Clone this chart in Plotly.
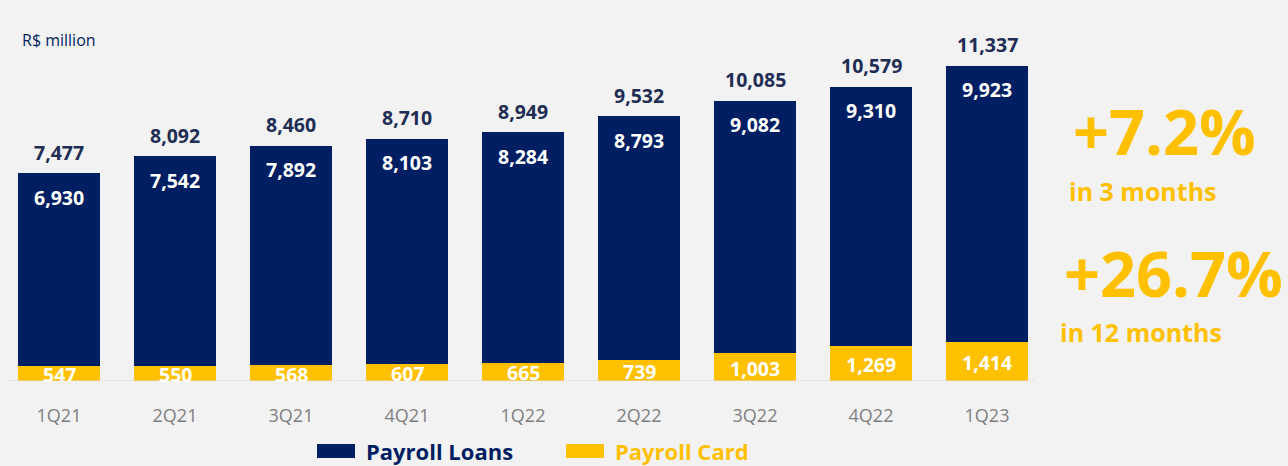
import plotly.graph_objects as go

quarters = ["1Q21", "2Q21", "3Q21", "4Q21", "1Q22", "2Q22", "3Q22", "4Q22", "1Q23"]
payroll_loans = [6930, 7542, 7892, 8103, 8284, 8793, 9082, 9310, 9923]
payroll_card = [547, 550, 568, 607, 665, 739, 1003, 1269, 1414]
totals = [7477, 8092, 8460, 8710, 8949, 9532, 10085, 10579, 11337]

NAVY = "#001E62"
YELLOW = "#FFC000"
BG = "#F2F2F2"
FONT = "Open Sans"

fig = go.Figure()
fig.add_trace(go.Bar(x=quarters, y=payroll_card, name="Payroll Card",
                     marker=dict(color=YELLOW, line=dict(width=0))))
fig.add_trace(go.Bar(x=quarters, y=payroll_loans, name="Payroll Loans",
                     marker=dict(color=NAVY, line=dict(width=0))))

ann = []
for q, c, l, t in zip(quarters, payroll_card, payroll_loans, totals):
    # total above the stack
    ann.append(dict(x=q, y=t, text=f"{t:,}", showarrow=False, yshift=21,
                    font=dict(family=FONT, size=19.5, color="#1F2D55", weight="bold")))
    # loans value near the top of the navy segment
    ann.append(dict(x=q, y=t, text=f"{l:,}", showarrow=False, yshift=-24,
                    font=dict(family=FONT, size=19.5, color="white", weight="bold")))
    # card value centred in the yellow segment
    ann.append(dict(x=q, y=c / 2, text=f"{c:,}", showarrow=False, yshift=-1,
                    font=dict(family=FONT, size=19.5, color="white", weight="bold")))

ann.append(dict(xref="paper", yref="paper", x=19 / 1044, y=(381 - 40) / 381,
                xanchor="left", yanchor="middle", showarrow=False, text="R$ million",
                font=dict(family=FONT, size=16, color=NAVY)))

# growth callouts on the right
side = [
    ("+7.2%", 1164, 130, 63, 0),
    ("in 3 months", 1067, 191, 25, 1),
    ("+26.7%", 1173, 272, 63, 0),
    ("in 12 months", 1058, 332, 25, 1),
]
for txt, px, py, sz, left in side:
    ann.append(dict(xref="paper", yref="paper", x=(px - 1) / 1044, y=(381 - py) / 381,
                    xanchor="left" if left else "center", yanchor="middle",
                    showarrow=False, text=txt,
                    font=dict(family=FONT, size=sz, color=YELLOW, weight="bold")))

# custom legend
legend_items = [("Payroll Loans", NAVY, 317), ("Payroll Card", YELLOW, 566)]
shapes = [dict(type="line", xref="x", yref="y", x0=-0.42, x1=8.41, y0=0, y1=0,
               line=dict(color="#D4D4D4", width=1), layer="above")]
for name, col, px in legend_items:
    shapes.append(dict(type="rect", xref="paper", yref="paper",
                       x0=(px - 1) / 1044, x1=(px + 37) / 1044,
                       y0=(381 - 458) / 381, y1=(381 - 444) / 381,
                       fillcolor=col, line=dict(width=0)))
    ann.append(dict(xref="paper", yref="paper", x=(px + 46) / 1044, y=(381 - 451) / 381,
                    xanchor="left", yanchor="middle", showarrow=False, text=name,
                    font=dict(family=FONT, size=22, color=col, weight="bold")))

fig.update_layout(
    barmode="stack",
    bargap=0.293,
    width=1288, height=466,
    margin=dict(l=1, r=243, t=0, b=85),
    paper_bgcolor=BG, plot_bgcolor=BG,
    showlegend=False,
    annotations=ann,
    shapes=shapes,
    xaxis=dict(range=[-0.5, 8.5], showgrid=False, zeroline=False, showline=False,
               ticks="outside", ticklen=18, tickcolor="rgba(0,0,0,0)",
               tickfont=dict(family=FONT, size=18, color="#7F7F7F")),
    yaxis=dict(range=[0, 13705], visible=False, showgrid=False, zeroline=False),
)

fig.write_html("out.html")
